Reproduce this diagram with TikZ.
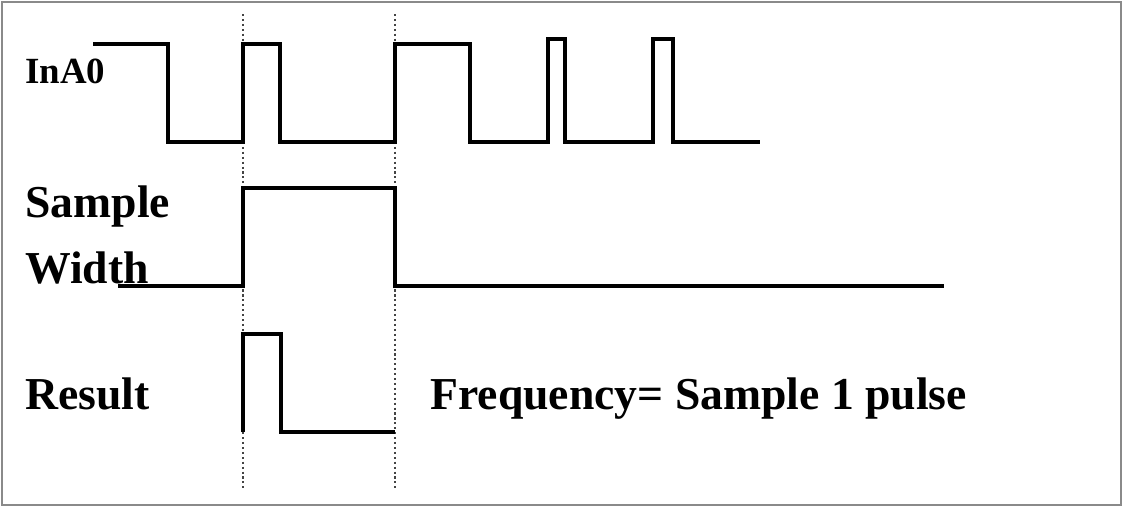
\documentclass[tikz,border=0pt]{standalone}
\usepackage{fontspec}
\setmainfont{Liberation Serif}
\usepackage{xcolor}
\usetikzlibrary{positioning}
\definecolor{frgray}{HTML}{8A8A8A}
\definecolor{dotgray}{HTML}{444444}

\begin{document}
\begin{tikzpicture}[
   x=0.02cm,y=-0.02cm,
   wave/.style={line width=1.8pt,line join=miter,black},
   guide/.style={dash pattern=on 1.2pt off 1.6pt,line width=1.2pt,dotgray},
   lbl/.style={font=\bfseries\fontsize{26}{30}\selectfont,anchor=base west,inner sep=0pt},
   small/.style={font=\bfseries\fontsize{21}{25}\selectfont,anchor=base west,inner sep=0pt}]
  \useasboundingbox (0,0) rectangle (1123,507);
  \draw[frgray,line width=1.2pt] (2,2) rectangle (1121,505);
  % sampling window
  \draw[guide] (243,14) -- (243,490);
  \draw[guide] (395,14) -- (395,490);
  % input signal
  \draw[wave] (93,44) -- (168,44) -- (168,142) -- (243,142) -- (243,44)
     -- (280,44) -- (280,142) -- (395,142) -- (395,44) -- (470,44)
     -- (470,142) -- (548,142) -- (548,39) -- (565,39) -- (565,142)
     -- (653,142) -- (653,39) -- (673,39) -- (673,142) -- (760,142);
  % gate
  \draw[wave] (118,286) -- (243,286) -- (243,188) -- (395,188)
     -- (395,286) -- (944,286);
  % output
  \draw[wave] (243,432) -- (243,334) -- (281,334) -- (281,432) -- (395,432);
  \node[small] (inA) at (25,83) {InA0};
  \node[lbl] (smp) at (25,217) {Sample};
  \node[lbl] (wid) at (25,283) {Width};
  \node[lbl] (res) at (25,409) {Result};
  \node[lbl] (frq) at (430,409) {Frequency= Sample 1 pulse};
\end{tikzpicture}
\end{document}
